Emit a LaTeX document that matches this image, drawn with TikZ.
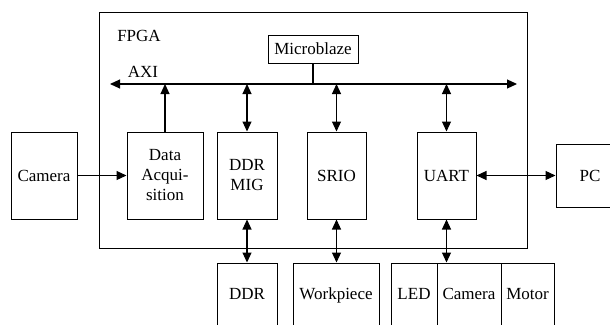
\documentclass[tikz,border=0pt]{standalone}
\usepackage{fontspec}
\setmainfont{Liberation Serif}
\usetikzlibrary{arrows.meta}
\begin{document}
\begin{tikzpicture}[x=1pt,y=-1pt,
  box/.style={draw,line width=1pt,inner sep=0pt,align=center,font=\fontsize{17}{20}\selectfont},
  bbox/.style={box,text height=11.5pt,text depth=3.5pt},
  lbl/.style={inner sep=0pt,font=\fontsize{17}{20}\selectfont},
  conn/.style={line width=1.1pt},
  tip/.style={-{Triangle[length=10pt,width=9pt]}},
  dtip/.style={{Triangle[length=10pt,width=9pt]}-{Triangle[length=10pt,width=9pt]}}]
\useasboundingbox (0,0) rectangle (610,324);
\clip (0,0) rectangle (610,324);
\fill[white] (0,0) rectangle (610,324);
% FPGA
\node[box,minimum width=428pt,minimum height=236pt] (fpga) at (313,130) {};
\node[lbl] (fpgal) at (139,36) {FPGA};
\node[box,minimum width=90pt,minimum height=28pt] (mb) at (313,49) {Microblaze};
\node[lbl] (axil) at (143,72) {AXI};
\coordinate (busL) at (110,84);
\coordinate (busR) at (517,84);
\draw[conn,dtip] (busL) -- (busR);
\draw[conn] (mb.south) -- (mb.south |- busL);
% inner blocks
\node[box,minimum width=66pt,minimum height=87pt] (cam) at (44,175.5) {Camera};
\node[box,minimum width=76pt,minimum height=87pt] (daq) at (165,175.5) {Data\\Acqui-\\sition};
\node[box,minimum width=60pt,minimum height=87pt] (mig) at (247,175.5) {DDR\\MIG};
\node[box,minimum width=59pt,minimum height=87pt] (srio) at (336.5,175.5) {SRIO};
\node[box,minimum width=59pt,minimum height=87pt] (uart) at (446.5,175.5) {UART};
\node[box,minimum width=68pt,minimum height=63pt] (pc) at (590,175.5) {PC};
% bottom blocks
\node[bbox,minimum width=60pt,minimum height=64pt] (ddr) at (247,295) {DDR};
\node[bbox,minimum width=86pt,minimum height=64pt] (work) at (336,295) {Workpiece};
\node[bbox,minimum width=46pt,minimum height=64pt] (led) at (414,295) {LED};
\node[bbox,minimum width=64pt,minimum height=64pt] (cam2) at (469,295) {Camera};
\node[bbox,minimum width=53pt,minimum height=64pt] (motor) at (527.5,295) {Motor};
% connectors
\draw[conn,tip] (daq.north) -- (daq.north |- busL);
\draw[conn,dtip] (mig.north |- busL) -- (mig.north);
\draw[conn,dtip] (srio.north |- busL) -- (srio.north);
\draw[conn,dtip] (uart.north |- busL) -- (uart.north);
\draw[conn,tip] (cam.east) -- (daq.west);
\draw[conn,dtip] (uart.east) -- (pc.west);
\draw[conn,dtip] (mig.south) -- (ddr.north);
\draw[conn,dtip] (srio.south) -- (srio.south |- work.north);
\draw[conn,dtip] (uart.south) -- (uart.south |- cam2.north);
\end{tikzpicture}
\end{document}
